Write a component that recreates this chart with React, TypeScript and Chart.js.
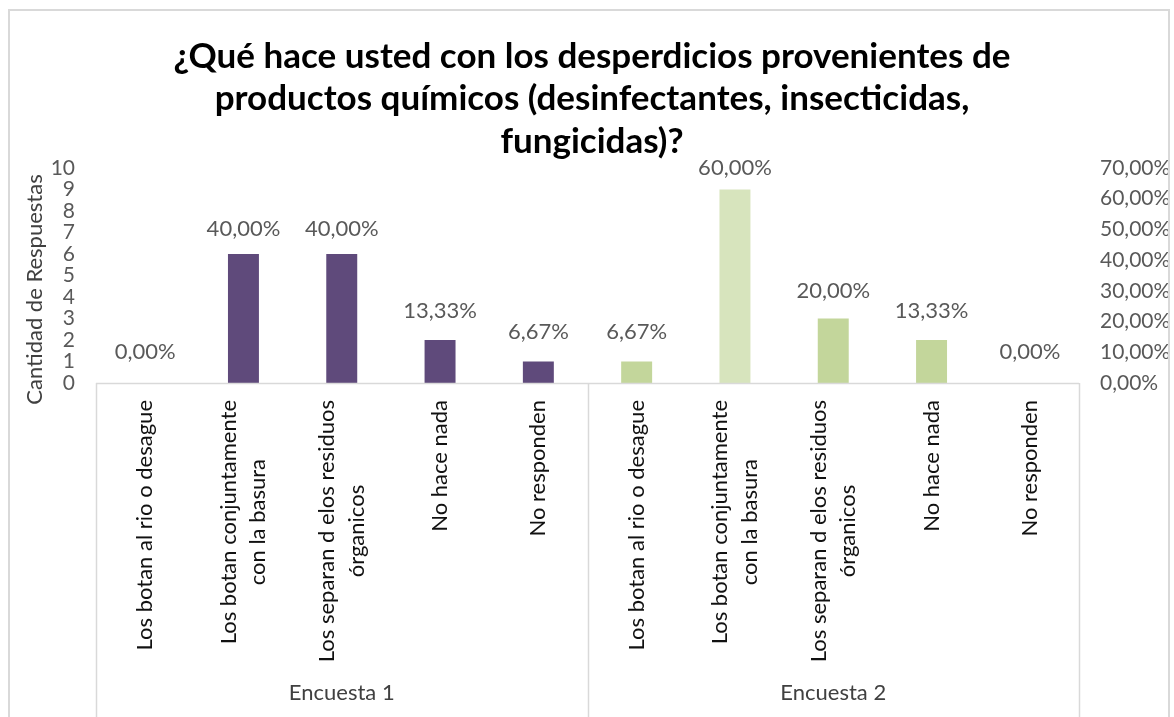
import React, { useEffect, useRef } from "react";
import { Chart, registerables } from "chart.js";

Chart.register(...registerables);

// ---------- data ----------
const groups = ["Encuesta 1", "Encuesta 2"];
const categories: string[][] = [
  ["Los botan al rio o desague"],
  ["Los botan conjuntamente", "con la basura"],
  ["Los separan d elos residuos", "órganicos"],
  ["No hace nada"],
  ["No responden"],
];
const counts1 = [0, 6, 6, 2, 1];
const counts2 = [1, 9, 3, 2, 0];
const pct1 = [0, 40, 40, 13.33, 6.67];
const pct2 = [6.67, 60, 20, 13.33, 0];
const countAxis = [0, 10, 1]; // min, max, step
const pctAxis = [0, 70, 10]; // min, max, step
const titleLines = [
  "¿Qué hace usted con los desperdicios provenientes de",
  "productos químicos (desinfectantes, insecticidas,",
  "fungicidas)?",
];
const yTitle = "Cantidad de Respuestas";

// ---------- styles ----------
const purple = "#5f4a7b";
const green = "#c3d69b";
const greenLight = "#d7e4bd";
const barColors = [
  purple, purple, purple, purple, purple,
  green, greenLight, green, green, green,
];
const FONT = "Lato";
const W = 1174;
const H = 717;

const fmtPct = (v: number) => v.toFixed(2).replace(".", ",") + "%";

const overlay = {
  id: "overlay",
  afterDraw(chart: any) {
    const ctx: CanvasRenderingContext2D = chart.ctx;
    const { left, right, top, bottom } = chart.chartArea;
    const xs = chart.scales.x;
    const n = categories.length;
    ctx.save();

    // outer chart border
    ctx.strokeStyle = "#d9d9d9";
    ctx.lineWidth = 2;
    ctx.strokeRect(9, 10, 1160, H + 40);

    // axis line + group separators
    ctx.lineWidth = 1.5;
    ctx.strokeStyle = "#d9d9d9";
    ctx.beginPath();
    ctx.moveTo(left, bottom + 0.5);
    ctx.lineTo(right, bottom + 0.5);
    for (let g = 0; g <= groups.length; g++) {
      let px: number;
      if (g === 0) px = left;
      else if (g === groups.length) px = right;
      else px = (xs.getPixelForValue(g * n - 1) + xs.getPixelForValue(g * n)) / 2;
      px = Math.round(px) + 0.5;
      ctx.moveTo(px, bottom);
      ctx.lineTo(px, H);
    }
    ctx.stroke();

    // category labels (rotated, centered lines, end aligned near axis)
    ctx.font = `22px ${FONT}`;
    ctx.fillStyle = "#111111";
    ctx.textAlign = "center";
    ctx.textBaseline = "middle";
    const total = groups.length * n;
    for (let i = 0; i < total; i++) {
      const lines = categories[i % n];
      const cx = xs.getPixelForValue(i);
      const w = Math.max(...lines.map((l) => ctx.measureText(l).width));
      const cy = bottom + 17 + w / 2;
      lines.forEach((line, j) => {
        ctx.save();
        ctx.translate(cx + (j - (lines.length - 1) / 2) * 29.5, cy);
        ctx.rotate(-Math.PI / 2);
        ctx.fillText(line, 0, 0);
        ctx.restore();
      });
    }

    // group labels
    ctx.fillStyle = "#404040";
    groups.forEach((g, gi) => {
      const a = gi === 0 ? left : (xs.getPixelForValue(gi * n - 1) + xs.getPixelForValue(gi * n)) / 2;
      const b = gi === groups.length - 1 ? right : (xs.getPixelForValue((gi + 1) * n - 1) + xs.getPixelForValue((gi + 1) * n)) / 2;
      ctx.fillText(g, (a + b) / 2, 693);
    });

    // percentage data labels
    const meta = chart.getDatasetMeta(1);
    const pct = chart.data.datasets[1].data as number[];
    ctx.font = `22px ${FONT}`;
    ctx.fillStyle = "#595959";
    meta.data.forEach((pt: any, i: number) => {
      ctx.fillText(fmtPct(pct[i]), pt.x, pt.y - 31);
    });

    // y-axis title
    ctx.font = `22px ${FONT}`;
    ctx.fillStyle = "#404040";
    ctx.save();
    ctx.translate(34.5, (top + bottom) / 2 + 14);
    ctx.rotate(-Math.PI / 2);
    ctx.fillText(yTitle, 0, 0);
    ctx.restore();

    ctx.restore();
  },
};

export default function App() {
  const ref = useRef<HTMLCanvasElement | null>(null);

  useEffect(() => {
    if (!ref.current) return;
    const labels = groups.flatMap(() => categories.map((c) => c.join(" ")));
    const chart = new Chart(ref.current, {
      type: "bar",
      data: {
        labels,
        datasets: [
          {
            type: "bar",
            data: [...counts1, ...counts2],
            backgroundColor: barColors,
            borderWidth: 0,
            categoryPercentage: 1,
            barPercentage: 0.315,
            yAxisID: "y",
          },
          {
            type: "line",
            data: [...pct1, ...pct2],
            showLine: false,
            pointRadius: 0,
            pointHoverRadius: 0,
            yAxisID: "y1",
          } as any,
        ],
      },
      options: {
        responsive: false,
        animation: false,
        devicePixelRatio: 1,
        layout: { padding: { left: 14, right: 4, top: 0, bottom: 0 } },
        plugins: {
          legend: { display: false },
          tooltip: { enabled: false },
          title: {
            display: true,
            text: titleLines,
            color: "#000000",
            font: { family: FONT, size: 35, weight: "bold", lineHeight: 1.214 },
            padding: { top: 35, bottom: 5.5 },
          },
        },
        scales: {
          x: {
            type: "category",
            offset: true,
            grid: { display: false, drawTicks: false },
            border: { display: false },
            ticks: { display: false },
            afterFit(s: any) {
              s.height = H - 383;
            },
          },
          y: {
            position: "left",
            min: countAxis[0],
            max: countAxis[1],
            grid: { display: false, drawTicks: false },
            border: { display: false },
            ticks: {
              stepSize: countAxis[2],
              autoSkip: false,
              padding: 21,
              color: "#595959",
              font: { family: FONT, size: 21, lineHeight: 0.9 },
            },
            afterFit(s: any) {
              s.width = 82;
            },
          },
          y1: {
            position: "right",
            min: pctAxis[0],
            max: pctAxis[1],
            grid: { display: false, drawTicks: false },
            border: { display: false },
            ticks: {
              stepSize: pctAxis[2],
              autoSkip: false,
              padding: 21,
              color: "#595959",
              font: { family: FONT, size: 21, lineHeight: 0.9 },
              callback: (v: any) => fmtPct(Number(v)),
            },
            afterFit(s: any) {
              s.width = 91;
            },
          },
        },
      },
      plugins: [overlay],
    });
    return () => chart.destroy();
  }, []);

  return (
    <div
      style={{
        position: "fixed",
        left: 0,
        top: 0,
        width: W,
        height: H,
        background: "#ffffff",
        overflow: "hidden",
      }}
    >
      <canvas ref={ref} width={W} height={H} style={{ width: W, height: H, display: "block" }} />
    </div>
  );
}
